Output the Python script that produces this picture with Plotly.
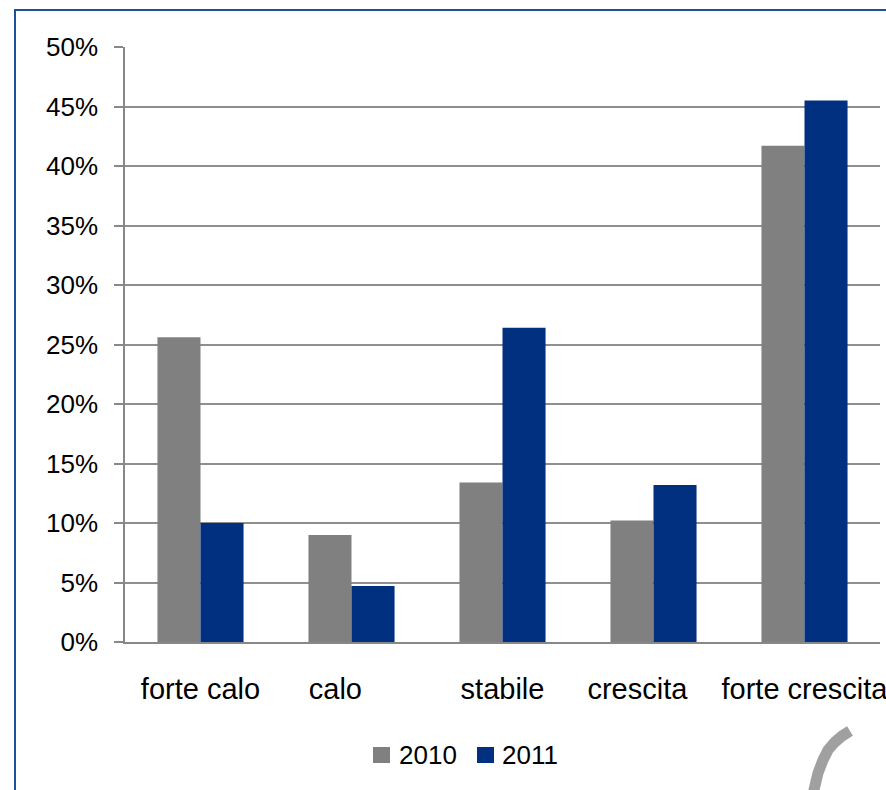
import plotly.graph_objects as go

# Survey shares by trend class, two years
categories = ["forte calo", "calo", "stabile", "crescita", "forte crescita"]
share_2010 = [25.6, 9.0, 13.4, 10.2, 41.7]
share_2011 = [10.0, 4.7, 26.4, 13.2, 45.5]
y_ticks = [0, 5, 10, 15, 20, 25, 30, 35, 40, 45, 50]
y_tick_labels = [f"{v}%" for v in y_ticks]
series_names = ["2010", "2011"]
series_colors = ["#808080", "#00307f"]

W, H = 886, 790
M_L, M_R, M_T, M_B = 125, 6, 47, 148
PW, PH = W - M_L - M_R, H - M_T - M_B


def px_x(x):
    return (x - M_L) / PW


def px_y(y):
    return (H - M_B - y) / PH


fig = go.Figure()
for name, vals, col in zip(series_names, [share_2010, share_2011], series_colors):
    fig.add_trace(go.Bar(x=categories, y=vals, name=name, showlegend=False,
                         marker=dict(color=col, line=dict(width=0))))

# frame around the whole panel
shapes = [dict(type="rect", xref="paper", yref="paper",
               x0=px_x(15), x1=px_x(900), y0=px_y(810), y1=px_y(10),
               line=dict(color="#1f4e9a", width=2), layer="above")]

# decorative grey arc in the lower right corner
arc_pts = [(850, 731), (842, 736), (835, 742), (828, 750), (823, 760),
           (818, 773), (814, 790), (812, 800)]
path = "M " + " L ".join(f"{px_x(x):.5f},{px_y(y):.5f}" for x, y in arc_pts)
shapes.append(dict(type="path", xref="paper", yref="paper", path=path,
                   line=dict(color="#a0a0a0", width=11)))

# legend: coloured squares followed by the series names
annotations = []
legend_items = [(373, 397), (477, 500)]
for (sx, tx), name, col in zip(legend_items, series_names, series_colors):
    shapes.append(dict(type="rect", xref="paper", yref="paper",
                       x0=px_x(sx), x1=px_x(sx + 17),
                       y0=px_y(763), y1=px_y(747),
                       fillcolor=col, line=dict(width=0)))
    annotations.append(dict(xref="paper", yref="paper", x=px_x(tx), y=px_y(755),
                            xanchor="left", yanchor="middle", showarrow=False,
                            text=name, font=dict(size=26, color="#000000")))

# category captions, with the padding used in the source sheet
tick_text = ["forte calo", "calo" + "\u00a0" * 4, "stabile",
             "crescita" + "\u00a0" * 4, "forte crescita"]

fig.update_layout(
    width=W, height=H,
    margin=dict(l=M_L, r=M_R, t=M_T, b=M_B, pad=0, autoexpand=False),
    paper_bgcolor="white", plot_bgcolor="white",
    font=dict(family="Liberation Sans, Arial, sans-serif", color="#000000"),
    barmode="group", bargap=0.43, bargroupgap=0,
    shapes=shapes, annotations=annotations,
    showlegend=False,
)

fig.update_xaxes(
    showline=True, linecolor="#888888", linewidth=1.5,
    showgrid=False, ticks="", tickfont=dict(size=29),
    tickmode="array", tickvals=categories, ticktext=tick_text,
    tickangle=0, automargin=False, ticklabelstandoff=20,
)
fig.update_yaxes(
    range=[0, 50], tickmode="array", tickvals=y_ticks, ticktext=y_tick_labels,
    showline=True, linecolor="#888888", linewidth=1.5,
    showgrid=True, gridcolor="#8f8f8f", gridwidth=2,
    ticks="outside", ticklen=9, tickcolor="#888888", tickwidth=1.5,
    tickfont=dict(size=26), ticklabelstandoff=11, zeroline=False,
    automargin=False,
)

fig.write_html("out.html")
